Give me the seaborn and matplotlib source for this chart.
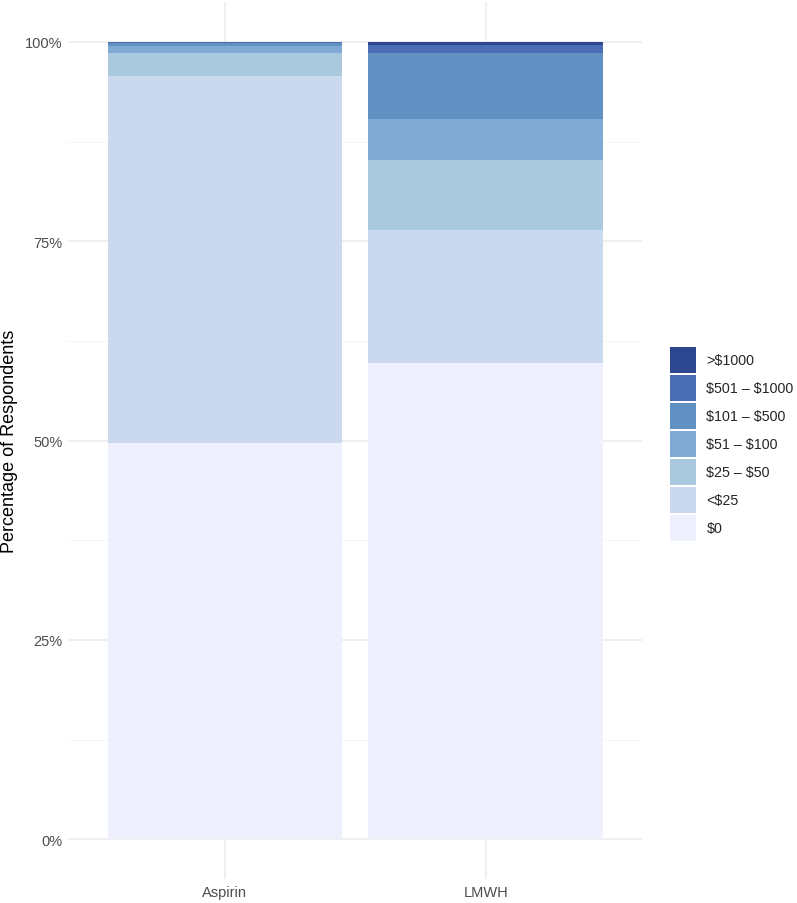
import matplotlib
matplotlib.use("Agg")
import matplotlib.pyplot as plt
import matplotlib.patches as mpatches
from matplotlib.ticker import FixedLocator, PercentFormatter
import seaborn as sns
import pandas as pd
import numpy as np

drugs = ["Aspirin", "LMWH"]
categories = ["$0", "<$25", "$25 – $50", "$51 – $100", "$101 – $500", "$501 – $1000", ">$1000"]
aspirin_pct = [49.7, 46.0, 2.9, 0.9, 0.3, 0.2, 0.0]
lmwh_pct = [59.7, 16.7, 8.8, 5.1, 8.3, 1.0, 0.4]
colors = ["#eff0fd", "#cbd9ef", "#aac9df", "#80a9d4", "#6091c2", "#4a6db5", "#2c4690"]

sns.set_theme(style="white")
plt.rcParams["font.family"] = ["Liberation Sans", "DejaVu Sans"]

fig = plt.figure(figsize=(7.97, 9.04), dpi=100)
ax = fig.add_axes([0.0858, 0.0265, 0.806 - 0.0858, 0.9967 - 0.0265])

rows = []
for d, vals in zip(drugs, [aspirin_pct, lmwh_pct]):
    for c, v in zip(categories, vals):
        rows.append({"drug": d, "cost": c, "pct": v})
df = pd.DataFrame(rows)
df["cost"] = pd.Categorical(df["cost"], categories=categories, ordered=True)
df = df.sort_values(["drug", "cost"])
df["cum"] = df.groupby("drug")["pct"].cumsum()

# draw from the top of stack downward so lower segments overlay
for c, col in reversed(list(zip(categories, colors))):
    sub = df[df["cost"] == c]
    sns.barplot(data=sub, x="drug", y="cum", order=drugs, color=col,
                width=0.9, saturation=1, ax=ax, zorder=3, linewidth=0)

ax.set_xlim(-0.6, 1.6)
ax.set_ylim(-5, 105)
ax.yaxis.set_major_locator(FixedLocator([0, 25, 50, 75, 100]))
ax.yaxis.set_minor_locator(FixedLocator([12.5, 37.5, 62.5, 87.5]))
ax.yaxis.set_major_formatter(PercentFormatter(decimals=0))
ax.grid(True, which="major", color="#ebebeb", linewidth=1.1, zorder=0)
ax.grid(True, which="minor", axis="y", color="#f4f4f4", linewidth=0.6, zorder=0)
ax.set_axisbelow(True)
for s in ax.spines.values():
    s.set_visible(False)
ax.tick_params(axis="both", which="both", length=0, labelsize=10.5, colors="#4d4d4d", pad=4)
ax.set_xlabel("")
ax.set_ylabel("Percentage of Respondents", fontsize=13, color="black", labelpad=5)

handles = [mpatches.Patch(facecolor=col, edgecolor="none", label=c.replace("$", r"\$"))
           for c, col in reversed(list(zip(categories, colors)))]
fig.legend(handles=handles, loc="upper left",
           bbox_to_anchor=(670 / 797, 1 - 348 / 904), frameon=False,
           fontsize=10.3, handlelength=1.8, handleheight=2.4,
           labelspacing=0.15, handletextpad=0.75, borderpad=0, borderaxespad=0)

fig.savefig("out.png", dpi=100)
